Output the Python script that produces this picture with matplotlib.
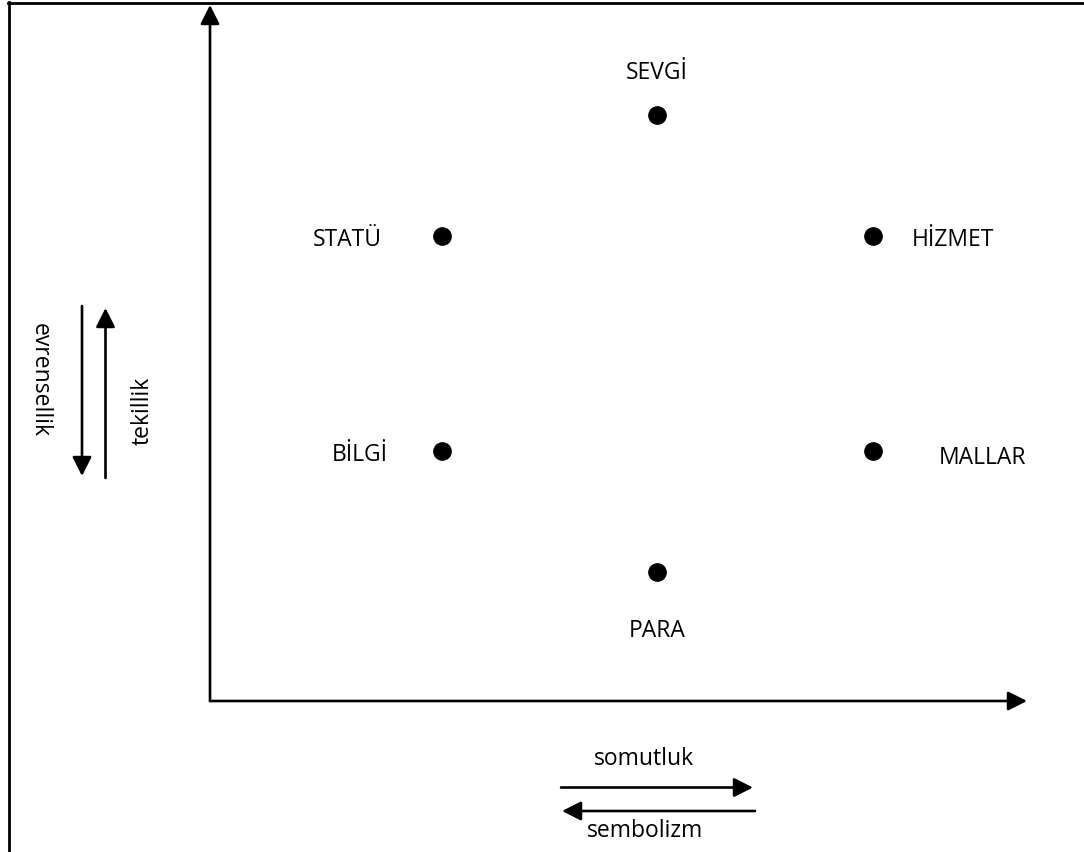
import matplotlib
matplotlib.use("Agg")
import matplotlib.pyplot as plt
from matplotlib.patches import FancyArrowPatch
from matplotlib.lines import Line2D

plt.rcParams['font.family'] = ['Open Sans', 'DejaVu Sans']

# Data: position of each resource on the two dimensions (0-100 scale)
resources = ["SEVGİ", "STATÜ", "HİZMET", "BİLGİ", "MALLAR", "PARA"]
concreteness = [54.7, 28.4, 81.1, 28.4, 81.1, 54.7]
particularism = [84.2, 66.8, 66.8, 35.9, 35.9, 18.5]
# label offsets (points) relative to the marker
label_dx = [0, -68, 58, -59, 79, 0]
label_dy = [30, -3, -3, -3, -5, -42]

W, H = 1084, 852
fig = plt.figure(figsize=(W / 100, H / 100), dpi=100)

def fx(px):
    return px / W

def fy(py):
    return 1 - py / H

# border (left and top)
fig.add_artist(Line2D([fx(8.5), fx(8.5)], [fy(2), fy(852)], color='black', lw=2.0,
                      transform=fig.transFigure))
fig.add_artist(Line2D([fx(8), fx(1084)], [fy(2.5), fy(2.5)], color='black', lw=2.0,
                      transform=fig.transFigure))

ax = fig.add_axes([fx(210), fy(701), (1027 - 210) / W, (701 - 5) / H])
ax.set_xlim(0, 100)
ax.set_ylim(0, 100)
ax.axis('off')

style = '-|>,head_length=1.15,head_width=0.58'

def farrow(x0, y0, x1, y1):
    a = FancyArrowPatch((fx(x0), fy(y0)), (fx(x1), fy(y1)), transform=fig.transFigure,
                        arrowstyle=style, mutation_scale=10, color='black', lw=1.9,
                        shrinkA=0, shrinkB=0)
    fig.add_artist(a)

# main axes
farrow(210, 701, 210, 5)
farrow(210, 701, 1027, 701)

ax.scatter(concreteness, particularism, s=155, color='black', zorder=3, clip_on=False)
for name, x, y, dx, dy in zip(resources, concreteness, particularism, label_dx, label_dy):
    ax.annotate(name, (x, y), xytext=(dx, dy), textcoords='offset points',
                ha='center', va='center', fontsize=16.5)

# side arrows
farrow(82, 306, 82, 476)
farrow(105.5, 478, 105.5, 308)
fig.text(fx(40), fy(380), "evrensellik", rotation=270, ha='center', va='center', fontsize=16.5)
fig.text(fx(143), fy(411), "tekillik", rotation=90, ha='center', va='center', fontsize=16.5)

# bottom arrows
farrow(561, 787.5, 753, 787.5)
farrow(755, 811, 562, 811)
fig.text(fx(644), fy(759), "somutluk", ha='center', va='center', fontsize=16.5)
fig.text(fx(645), fy(831), "sembolizm", ha='center', va='center', fontsize=16.5)

fig.savefig("out.png", dpi=100)
